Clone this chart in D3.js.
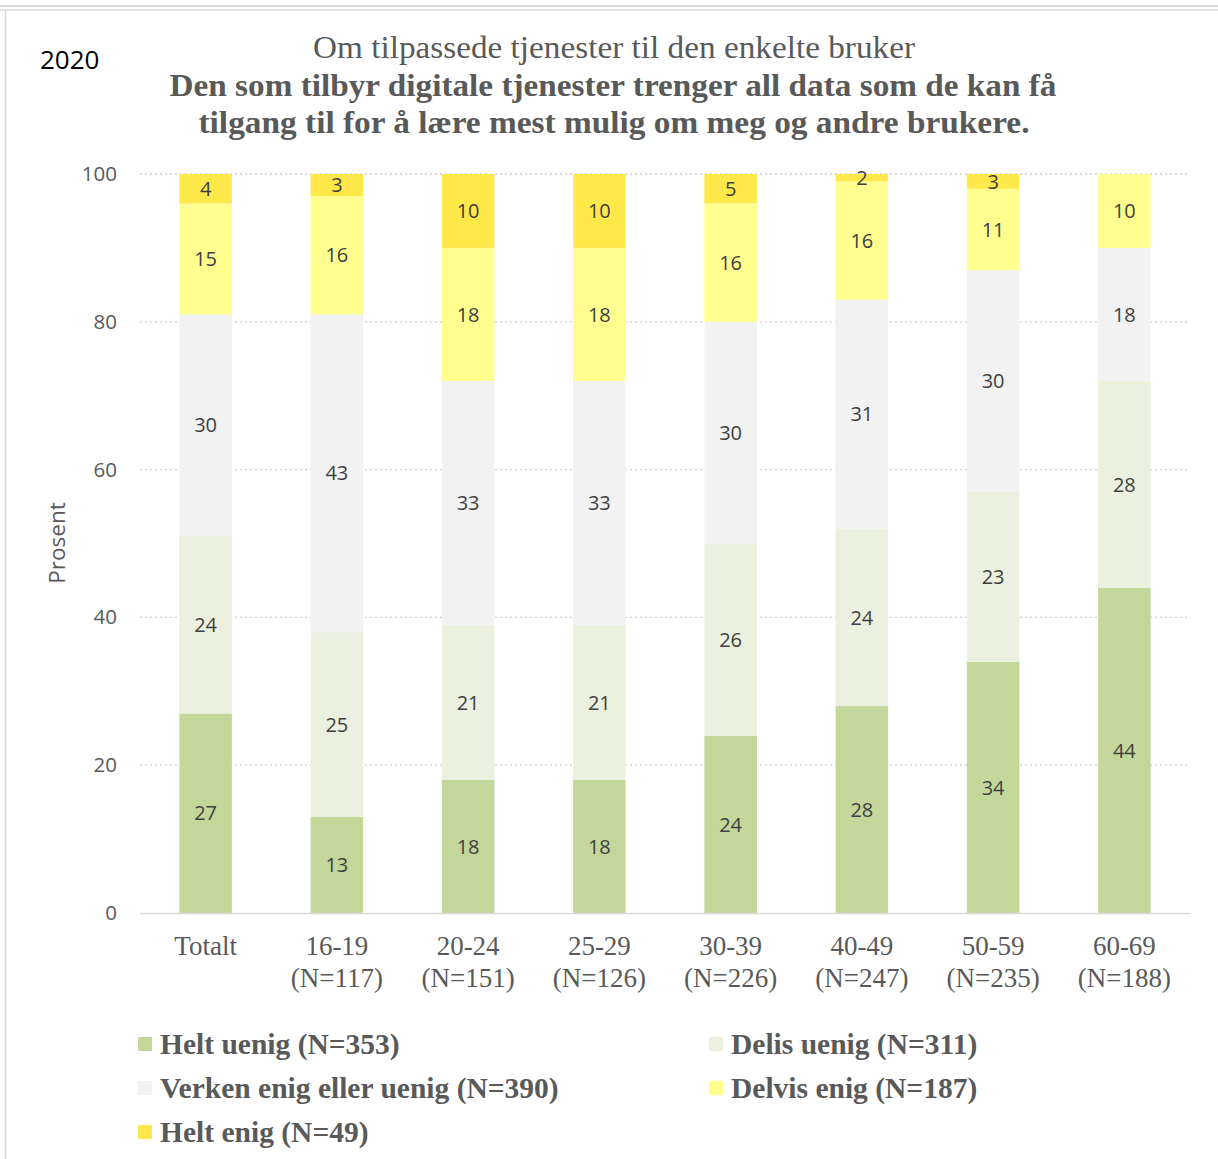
<!DOCTYPE html>
<html><head><meta charset="utf-8">
<script src="https://cdn.jsdelivr.net/npm/d3@7/dist/d3.min.js"></script>
<style>body{margin:0;background:#fff}svg{display:block}</style>
</head><body>
<svg id="chart" width="1218" height="1159"></svg>
<script>
const categories = ["Totalt", "16-19", "20-24", "25-29", "30-39", "40-49", "50-59", "60-69"];
const categorySub = ["", "(N=117)", "(N=151)", "(N=126)", "(N=226)", "(N=247)", "(N=235)", "(N=188)"];
const seriesNames = ["Helt uenig (N=353)", "Delis uenig (N=311)", "Verken enig eller uenig (N=390)", "Delvis enig (N=187)", "Helt enig (N=49)"];
const heltUenig  = [27, 13, 18, 18, 24, 28, 34, 44];
const delisUenig = [24, 25, 21, 21, 26, 24, 23, 28];
const verken     = [30, 43, 33, 33, 30, 31, 30, 18];
const delvisEnig = [15, 16, 18, 18, 16, 16, 11, 10];
const heltEnig   = [4, 3, 10, 10, 5, 2, 3, 0];
const yTicks = [0, 20, 40, 60, 80, 100];
const colors = ["#c4d79b", "#ebf1de", "#f2f2f2", "#ffff8f", "#ffe94a"];

const series = [heltUenig, delisUenig, verken, delvisEnig, heltEnig];
const svg = d3.select("#chart");
const W = 1218, H = 1159;
const pLeft = 140, pRight = 1190, pTop = 174, pBottom = 913;

// frame
svg.append("line").attr("x1", 0).attr("x2", W).attr("y1", 6).attr("y2", 6).attr("stroke", "#d9d9d9").attr("stroke-width", 2);
svg.append("line").attr("x1", 0).attr("x2", W).attr("y1", 10).attr("y2", 10).attr("stroke", "#d9d9d9").attr("stroke-width", 1.5);
svg.append("line").attr("x1", 5.5).attr("x2", 5.5).attr("y1", 10).attr("y2", H).attr("stroke", "#d9d9d9").attr("stroke-width", 1.5);

const x = d3.scaleBand().domain(categories).range([pLeft, pRight]).paddingInner(0.6).paddingOuter(0.3);
const y = d3.scaleLinear().domain([0, 100]).range([pBottom, pTop]);

// gridlines
svg.append("g").selectAll("line").data(yTicks.filter(d => d > 0)).join("line")
  .attr("x1", pLeft).attr("x2", pRight).attr("y1", d => y(d)).attr("y2", d => y(d))
  .attr("stroke", "#d0d0d0").attr("stroke-width", 1.3).attr("stroke-dasharray", "2,3");

// stacked bars
const stackData = categories.map((c, i) => {
  const o = {cat: c};
  series.forEach((s, j) => o["s" + j] = s[i]);
  return o;
});
const stack = d3.stack().keys(series.map((s, j) => "s" + j));
const layers = stack(stackData);
const gBars = svg.append("g");
layers.forEach((layer, j) => {
  layer.forEach((d, i) => {
    const v = series[j][i];
    if (v <= 0) return;
    const y0 = Math.min(d[0], 100), y1 = Math.min(d[1], 100);
    if (y1 <= y0) return;
    gBars.append("rect")
      .attr("x", x(categories[i])).attr("width", x.bandwidth())
      .attr("y", y(y1)).attr("height", y(y0) - y(y1))
      .attr("fill", colors[j]);
    gBars.append("text")
      .attr("x", x(categories[i]) + x.bandwidth() / 2)
      .attr("y", y((y0 + y1) / 2))
      .attr("dy", "0.36em")
      .attr("text-anchor", "middle")
      .attr("font-family", "'Open Sans', sans-serif").attr("font-size", 20)
      .attr("fill", "#404040").text(v);
  });
});

// x axis line
svg.append("line").attr("x1", pLeft).attr("x2", pRight).attr("y1", pBottom + 0.5).attr("y2", pBottom + 0.5).attr("stroke", "#d9d9d9").attr("stroke-width", 1.5);

// y axis labels
const yAxis = d3.axisLeft(y).tickValues(yTicks).tickSize(0).tickPadding(23);
const gy = svg.append("g").attr("transform", `translate(${pLeft},0)`).call(yAxis);
gy.select(".domain").remove();
gy.selectAll("text").attr("font-family", "'Open Sans', sans-serif").attr("font-size", 20.5).attr("fill", "#595959");

// x labels
const gx = svg.append("g");
categories.forEach((c, i) => {
  const cx = x(c) + x.bandwidth() / 2;
  gx.append("text").attr("x", cx).attr("y", 955).attr("text-anchor", "middle")
    .attr("font-family", "'Liberation Serif', serif").attr("font-size", 27).attr("fill", "#595959").text(c);
  if (categorySub[i]) gx.append("text").attr("x", cx).attr("y", 987).attr("text-anchor", "middle")
    .attr("font-family", "'Liberation Serif', serif").attr("font-size", 27).attr("fill", "#595959").text(categorySub[i]);
});

// y title
svg.append("text").attr("transform", "translate(65,543) rotate(-90)").attr("text-anchor", "middle")
  .attr("font-family", "'Open Sans', sans-serif").attr("font-size", 22.5).attr("fill", "#595959").text("Prosent");

// titles
svg.append("text").attr("x", 40).attr("y", 69).attr("font-family", "'Open Sans', sans-serif").attr("font-size", 26).attr("fill", "#000").text("2020");
svg.append("text").attr("x", 614).attr("y", 58).attr("text-anchor", "middle").attr("font-family", "'Liberation Serif', serif").attr("font-size", 31).attr("textLength", 602).attr("lengthAdjust", "spacingAndGlyphs").attr("fill", "#595959").text("Om tilpassede tjenester til den enkelte bruker");
svg.append("text").attr("x", 613).attr("y", 96).attr("text-anchor", "middle").attr("font-family", "'Liberation Serif', serif").attr("font-weight", "bold").attr("font-size", 32).attr("textLength", 887).attr("lengthAdjust", "spacingAndGlyphs").attr("fill", "#595959").text("Den som tilbyr digitale tjenester trenger all data som de kan få");
svg.append("text").attr("x", 614).attr("y", 133).attr("text-anchor", "middle").attr("font-family", "'Liberation Serif', serif").attr("font-weight", "bold").attr("font-size", 32).attr("textLength", 831).attr("lengthAdjust", "spacingAndGlyphs").attr("fill", "#595959").text("tilgang til for å lære mest mulig om meg og andre brukere.");

// legend
const legPos = [[138, 1044], [709, 1044], [138, 1088], [709, 1088], [138, 1132]];
seriesNames.forEach((n, j) => {
  const [lx, ly] = legPos[j];
  svg.append("rect").attr("x", lx).attr("y", ly - 7).attr("width", 14).attr("height", 14).attr("fill", colors[j]);
  svg.append("text").attr("x", lx + 22).attr("y", ly).attr("dy", "0.35em")
    .attr("font-family", "'Liberation Serif', serif").attr("font-weight", "bold").attr("font-size", 29.5).attr("fill", "#595959").text(n);
});
</script>
</body></html>
